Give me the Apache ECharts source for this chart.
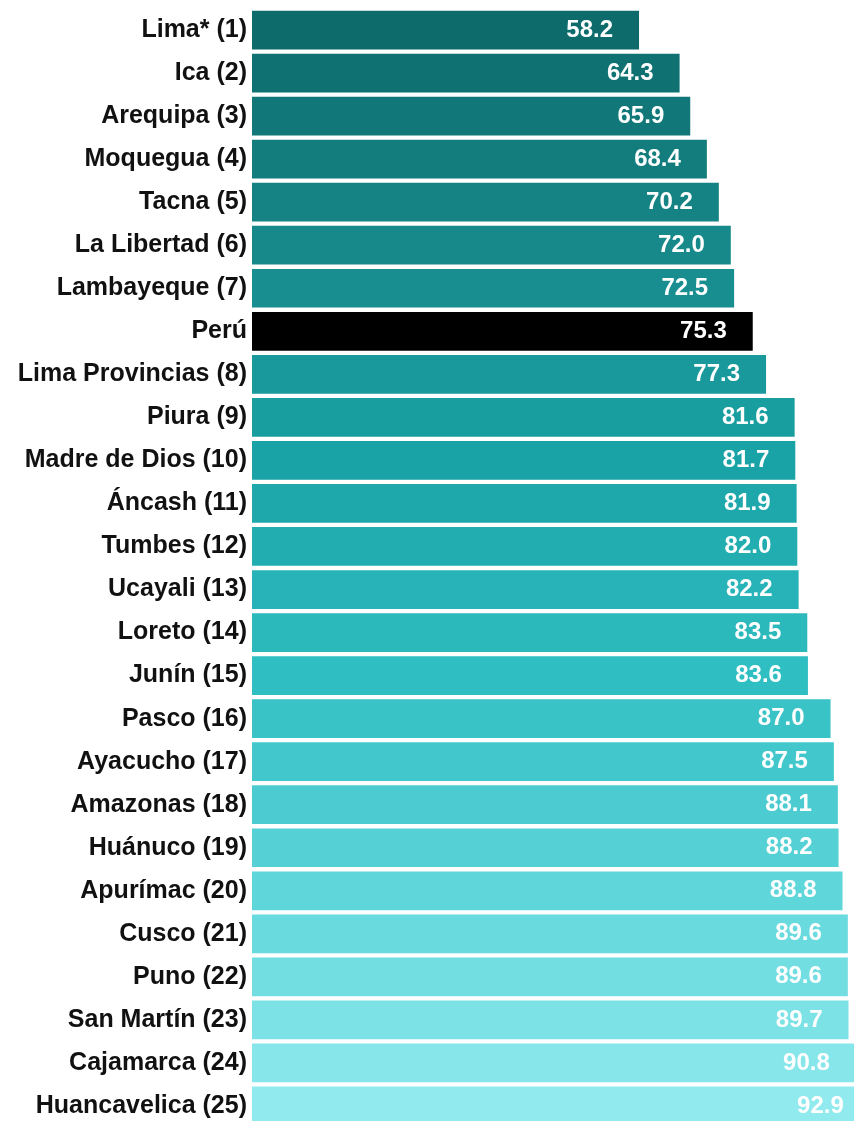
<!DOCTYPE html>
<html>
<head>
<meta charset="utf-8">
<script src="https://cdn.jsdelivr.net/npm/echarts@6/dist/echarts.min.js"></script>
<style>html,body{margin:0;padding:0;background:#fff}#c{width:854px;height:1121px}</style>
</head>
<body>
<div id="c"></div>
<script>
const categories = ["Lima* (1)","Ica (2)","Arequipa (3)","Moquegua (4)","Tacna (5)","La Libertad (6)","Lambayeque (7)","Perú","Lima Provincias (8)","Piura (9)","Madre de Dios (10)","Áncash (11)","Tumbes (12)","Ucayali (13)","Loreto (14)","Junín (15)","Pasco (16)","Ayacucho (17)","Amazonas (18)","Huánuco (19)","Apurímac (20)","Cusco (21)","Puno (22)","San Martín (23)","Cajamarca (24)","Huancavelica (25)"];
const values = [58.2,64.3,65.9,68.4,70.2,72.0,72.5,75.3,77.3,81.6,81.7,81.9,82.0,82.2,83.5,83.6,87.0,87.5,88.1,88.2,88.8,89.6,89.6,89.7,90.8,92.9];
const highlight = "Perú";

// colour stops (style only)
const stops = [[0,[13,107,108]],[0.2,[23,137,138]],[0.4,[26,163,166]],[0.6,[47,190,194]],[0.8,[95,214,218]],[1,[144,234,238]]];
function colAt(t){
  for(let i=1;i<stops.length;i++){
    if(t<=stops[i][0]){
      const a=stops[i-1],b=stops[i];const f=(t-a[0])/(b[0]-a[0]);
      const c=a[1].map((v,k)=>Math.round(v+(b[1][k]-v)*f));
      return 'rgb('+c.join(',')+')';
    }
  }
  return 'rgb('+stops[stops.length-1][1].join(',')+')';
}
const n = categories.length;
const data = values.map((v,i)=>({value:v,itemStyle:{color: categories[i]===highlight ? '#000000' : colAt(i/(n-1))}}));

const chart = echarts.init(document.getElementById('c'));
chart.setOption({
  animation:false,
  grid:{left:252, top:8.5, width:665, height:1119, containLabel:false, outerBoundsMode:'none'},
  xAxis:{type:'value', min:0, max:100, show:false},
  yAxis:{type:'category', data:categories, inverse:true,
    axisLine:{show:false}, axisTick:{show:false},
    axisLabel:{margin:5, color:'#111', fontFamily:'Liberation Sans, Arial', fontWeight:'bold', fontSize:25}},
  series:[{type:'bar', data:data, barCategoryGap:'10%', clip:false,
    label:{show:true, position:'insideRight', distance:26, color:'#fff', fontFamily:'Liberation Sans, Arial', fontWeight:'bold', fontSize:24,
      formatter:p=>p.value.toFixed(1)}}]
});
</script>
</body>
</html>
